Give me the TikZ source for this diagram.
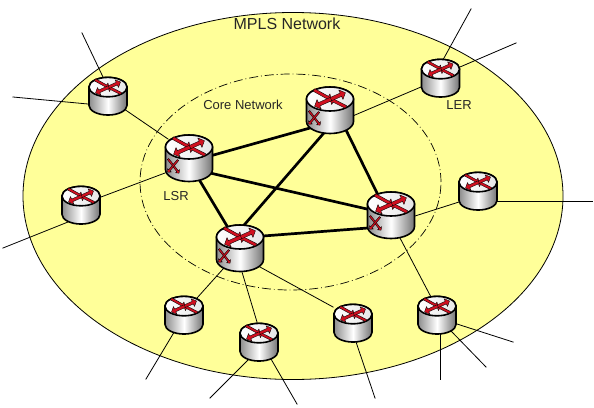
\documentclass[tikz,border=0pt]{standalone}
\usepackage{fontspec}
\setmainfont{Liberation Sans}
\usetikzlibrary{shapes.geometric}
\definecolor{netyellow}{HTML}{FFFF99}
\definecolor{arrred}{HTML}{D01020}
\tikzset{
  thinlink/.style={draw=black,line width=0.8pt,shorten <=-2pt,shorten >=-0.5pt},
  corelink/.style={draw=black,line width=2.7pt,shorten <=-3pt,shorten >=-3pt},
  netlabel/.style={font=\fontsize{13}{15}\selectfont,text=black!85,inner sep=0pt},
}
\newcommand\rarr[5]{%
  \begin{scope}[shift={(#1,#2)},rotate=#3]
    \filldraw[fill=arrred,draw=black,line width=0.35pt,line join=round]
      (0,-#5) -- ({#4-2.8*#5},-#5) -- ({#4-2.8*#5},{-2.9*#5}) -- (#4,0)
      -- ({#4-2.8*#5},{2.9*#5}) -- ({#4-2.8*#5},#5) -- (0,#5) -- cycle;
  \end{scope}}
\newcommand\routericon[3]{%
  \begin{scope}[shift={(#1)},scale=#2]
    \path[left color=black!45,right color=black!55,middle color=white,draw=black,line width=1.6pt]
      (-23.5,-11) -- (-23.5,11.5) arc[start angle=180,end angle=0,x radius=23.5,y radius=12]
      -- (23.5,-11) arc[start angle=0,end angle=-180,x radius=23.5,y radius=12] -- cycle;
    \path[left color=white,right color=black!10,draw=black,line width=1.6pt]
      (0,-11) ellipse[x radius=23.5,y radius=12];
    \rarr{-16}{-20}{-29}{20}{1.5}
    \rarr{16}{-3}{153}{18}{1.5}
    \rarr{-1}{-10}{24}{18}{1.8}
    \rarr{1}{-11}{204}{18}{1.8}
    #3
  \end{scope}}
\newcommand\sidemark{%
  \rarr{-21}{1}{-52}{18}{0.9}
  \rarr{-11}{2}{-130}{16}{0.9}}
\begin{document}
\begin{tikzpicture}[x=1pt,y=-1pt]
  \useasboundingbox (0,0) rectangle (594,407);
  \fill[white] (0,0) rectangle (594,407);
  \node[draw=black,line width=0.8pt,fill=netyellow,ellipse,minimum width=540pt,minimum height=367pt,inner sep=0pt] (mpls) at (293,196) {};
  \node[netlabel,font=\fontsize{16}{18}\selectfont] (mplslabel) at (287,24) {MPLS Network};
  \node[draw=black,line width=0.7pt,dash pattern=on 9pt off 3pt on 0.8pt off 3pt,ellipse,minimum width=301pt,minimum height=216pt,inner sep=0pt] (core) at (290.5,182) {};
  \node[netlabel] (corelabel) at (243,105) {Core Network};
  \node[netlabel] (lsrlabel) at (176,196) {LSR};
  \node[netlabel] (lerlabel) at (459,105) {LER};

  \foreach \n/\x/\y in {lsrA/189/158,lsrB/330/110,lsrC/391/215,lsrD/240/248,
      tl/108/96,le/81/205,ler/440.5/78,ri/478/191,b1/184/315,b2/259/342,b3/353/323,b4/437/315}
    {\coordinate (\n) at (\x,\y);}

  \foreach \a/\ax/\ay/\b/\bx/\by in {
      a1/103/77/f1/82/33, a2/88/104/f2/13/97, a3/127/111/f3/168/139,
      a4/101/197/f4/165/173, a5/68/222/f5/3/248,
      a6/444/58/f6/471/9, a7/460/67/f7/516/43, a8/355/115/f8/421/87,
      a9/498/201/f9/592/201, a10/415/216/f10/459/202,
      a11/400/238/f11/431/297, a12/223/269/f12/197/298,
      a13/242/272/f13/257/322, a14/260/267/f14/333/307,
      a15/173/334/f15/146/379, a16/248/360/f16/210/398, a17/271/359/f17/297/404,
      a18/356/342/f18/375/398, a19/440/334/f19/440/379, a20/452/332/f20/486/367,
      a21/457/324/f21/513/342}
    {\coordinate (\a) at (\ax,\ay); \coordinate (\b) at (\bx,\by);
     \draw[thinlink] (\a) -- (\b);}

  \foreach \a/\ax/\ay/\b/\bx/\by in {
      c1/210/156/d1/310/128, c2/210/173/d2/367/209, c3/200/181/d3/227/226,
      c4/323/134/d4/245/224, c5/347/132/d5/377/193, c6/263/236/d6/368/228}
    {\coordinate (\a) at (\ax,\ay); \coordinate (\b) at (\bx,\by);
     \draw[corelink] (\a) -- (\b);}

  \foreach \r in {lsrA,lsrB,lsrC,lsrD}
    {\routericon{\r}{1}{\sidemark}}
  \foreach \r in {tl,le,ler,ri,b1,b2,b3,b4}
    {\routericon{\r}{0.81}{}}
\end{tikzpicture}
\end{document}
